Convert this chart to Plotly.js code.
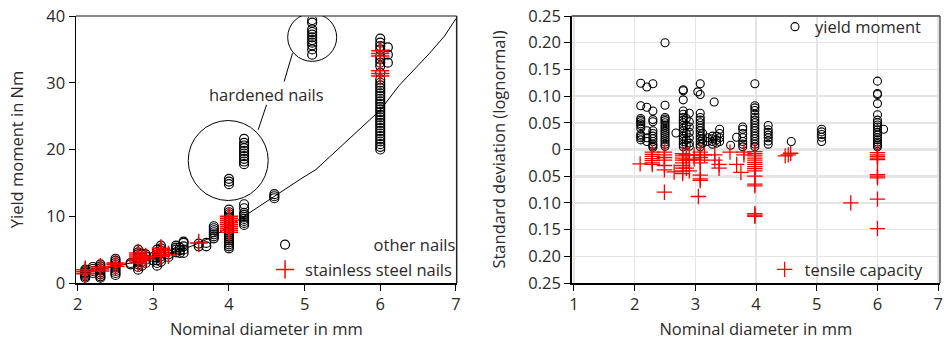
<!DOCTYPE html>
<html>
<head>
<meta charset="utf-8">
<script src="https://cdn.plot.ly/plotly-3.0.1.min.js"></script>
<style>html,body{margin:0;padding:0;background:#fff;}#chart{width:944px;height:340px;}</style>
</head>
<body>
<div id="chart"></div>
<script>
// ---------- Left panel: yield moment vs nominal diameter ----------
const otherDiam = [2.1, 2.2, 2.3, 2.5, 2.7, 2.8, 2.85, 2.9, 3.0, 3.05, 3.1, 3.2, 3.3, 3.35, 3.4, 3.6, 3.7, 3.8, 4.0, 4.2, 4.6, 5.1, 6.0, 6.1];
const otherMoment = [
  [0.8, 1.0, 1.2, 1.4, 1.5, 1.6, 1.8, 2.0],
  [1.5, 1.8, 2.1, 2.4],
  [0.8, 1.0, 1.3, 1.6, 1.9, 2.2, 2.5, 2.8],
  [1.2, 1.5, 1.8, 2.1, 2.4, 2.7, 3.0, 3.3, 3.6],
  [2.8, 3.0],
  [2.0, 2.4, 2.8, 3.1, 3.4, 3.7, 4.0, 4.3, 4.6, 5.0],
  [2.6, 3.2, 3.8, 4.4],
  [3.0, 3.5, 4.0, 4.3],
  [3.4, 3.9],
  [2.6, 3.0, 3.4, 3.8, 4.2, 4.6, 5.0],
  [3.2, 3.6, 4.0, 4.4, 4.8, 5.2, 5.6],
  [3.9, 4.3],
  [4.6, 5.0, 5.3, 5.6],
  [4.5, 4.9, 5.3],
  [4.5, 5.0, 5.5, 6.0, 6.2],
  [5.5, 5.9],
  [5.5, 6.0],
  [6.7, 7.0, 7.3, 7.6, 7.9, 8.2, 8.5],
  [5.2, 5.5, 5.8, 6.1, 6.4, 6.7, 7.0, 7.3, 7.6, 7.9, 8.2, 8.5, 8.8, 9.1, 9.4, 9.7, 10.0, 10.3, 10.6, 11.0, 14.8, 15.2, 15.6],
  [8.7, 9.0, 9.3, 9.6, 9.9, 10.2, 10.5, 11.2, 11.8, 17.8, 18.2, 18.6, 19.0, 19.4, 19.8, 20.2, 20.6, 21.0, 21.6],
  [12.7, 13.0, 13.3],
  [34.2, 35.0, 35.6, 36.0, 36.4, 36.8, 37.2, 37.6, 38.0, 39.0, 39.4],
  [20.0, 20.4, 20.8, 21.2, 21.6, 22.0, 22.4, 22.8, 23.2, 23.6, 24.0, 24.4, 24.8, 25.2, 25.6, 26.0, 26.4, 26.8, 27.2, 27.6, 28.0, 28.4, 28.8, 29.2, 29.6, 30.0, 30.5, 31.5, 32.5, 33.0, 33.5, 34.0, 35.0, 35.5, 36.0, 36.6],
  [33.0, 34.2, 35.3]
];
const steelDiam = [2.1, 2.3, 2.5, 2.8, 2.85, 2.9, 3.1, 3.2, 3.6, 4.0, 6.0];
const steelMoment = [
  [1.4, 1.7, 2.0],
  [1.8, 2.1, 2.4],
  [2.5, 2.8, 3.0],
  [3.0, 3.3, 3.6, 3.9, 4.2, 4.5],
  [3.5, 4.0],
  [3.6, 3.9],
  [4.0, 4.3, 4.6, 4.9, 5.2],
  [4.2],
  [6.0],
  [7.6, 7.9, 8.2, 8.5, 8.8, 9.1, 9.4, 9.7, 10.0],
  [31.0, 31.4, 31.8, 34.0, 34.4, 34.8]
];
const curveDiam = [2.05, 2.3, 2.5, 2.7, 3.0, 3.2, 3.5, 3.8, 4.0, 4.25, 4.6, 4.95, 5.15, 5.4, 5.6, 5.8, 6.0, 6.25, 6.45, 6.65, 6.85, 7.0];
const curveMoment = [1.5, 2.0, 2.5, 3.0, 3.7, 4.3, 5.5, 7.0, 8.5, 10.4, 12.9, 15.6, 17.0, 19.6, 21.8, 23.8, 25.9, 29.6, 32.0, 34.4, 37.0, 39.6];

// ---------- Right panel: standard deviation (lognormal) ----------
const ymDiam = [2.1, 2.2, 2.3, 2.5, 2.68, 2.8, 2.85, 2.9, 3.04, 3.08, 3.12, 3.2, 3.28, 3.31, 3.35, 3.4, 3.58, 3.68, 3.78, 3.98, 4.2, 4.58, 5.08, 6.0, 6.1];
const ymSd = [
  [0.124, 0.082, 0.058, 0.055, 0.052, 0.048, 0.045, 0.040, 0.028, 0.025, 0.022, 0.018],
  [0.117, 0.079, 0.035, 0.022, 0.015],
  [0.123, 0.072, 0.056, 0.052, 0.035, 0.030, 0.025, 0.020, 0.015, 0.010, 0.007, 0.004],
  [0.200, 0.083, 0.060, 0.057, 0.054, 0.050, 0.046, 0.042, 0.038, 0.034, 0.030, 0.026, 0.022, 0.018, 0.014, 0.010, 0.006],
  [0.031],
  [0.112, 0.110, 0.093, 0.072, 0.066, 0.060, 0.055, 0.050, 0.045, 0.040, 0.035, 0.030, 0.025, 0.020, 0.015, 0.010, 0.005],
  [0.058, 0.045, 0.030, 0.018, 0.008],
  [0.068, 0.052, 0.042, 0.032, 0.022, 0.012, 0.006],
  [0.108],
  [0.123, 0.103, 0.068, 0.060, 0.055, 0.050, 0.045, 0.040, 0.035, 0.030, 0.025, 0.020, 0.015, 0.010, 0.005],
  [0.030, 0.020, 0.012],
  [0.022, 0.015],
  [0.025, 0.020, 0.015, 0.010],
  [0.089],
  [0.025, 0.018, 0.012],
  [0.038, 0.030, 0.022, 0.015],
  [0.008],
  [0.023],
  [0.042, 0.038, 0.030, 0.022, 0.015, 0.010, 0.005],
  [0.123, 0.082, 0.078, 0.073, 0.066, 0.060, 0.055, 0.050, 0.045, 0.040, 0.035, 0.030, 0.025, 0.020, 0.015, 0.010, 0.005],
  [0.045, 0.037, 0.032, 0.027, 0.022, 0.016, 0.010],
  [0.015],
  [0.038, 0.033, 0.028, 0.023, 0.015],
  [0.128, 0.105, 0.103, 0.086, 0.065, 0.055, 0.050, 0.046, 0.042, 0.037, 0.032, 0.027, 0.022, 0.018, 0.014, 0.011, 0.008, 0.005],
  [0.038]
];
// tensile capacity is drawn downward (plotted as negative values, labelled as absolute)
const tcDiam = [2.09, 2.29, 2.49, 2.65, 2.79, 2.85, 2.9, 2.98, 3.05, 3.08, 3.15, 3.32, 3.39, 3.57, 3.68, 3.75, 3.8, 3.98, 4.48, 4.53, 4.57, 5.56, 6.0];
const tcSd = [
  [0.027],
  [0.005, 0.009, 0.013, 0.017, 0.021, 0.025, 0.028],
  [0.005, 0.010, 0.015, 0.020, 0.030, 0.038, 0.080],
  [0.042],
  [0.008, 0.012, 0.016, 0.020, 0.025, 0.030, 0.035, 0.040, 0.045],
  [0.010, 0.020, 0.035],
  [0.010, 0.020, 0.040],
  [0.010, 0.018],
  [0.088],
  [0.005, 0.010, 0.015, 0.020, 0.025, 0.048, 0.055, 0.058],
  [0.010],
  [0.010, 0.020],
  [0.028, 0.035],
  [0.005],
  [0.028],
  [0.043],
  [0.005, 0.010],
  [0.004, 0.008, 0.012, 0.016, 0.020, 0.024, 0.028, 0.032, 0.036, 0.040, 0.050, 0.065, 0.068, 0.120, 0.123, 0.125],
  [0.012],
  [0.010],
  [0.007],
  [0.100],
  [0.006, 0.010, 0.013, 0.016, 0.019, 0.047, 0.050, 0.053, 0.093, 0.148]
];
const sdTickVals = [0.25, 0.20, 0.15, 0.10, 0.05, 0, -0.05, -0.10, -0.15, -0.20, -0.25];
const sdTickText = ['0.25', '0.20', '0.15', '0.10', '0.05', '0', '0.05', '0.10', '0.15', '0.20', '0.25'];
const diamTicksLeft = [2, 3, 4, 5, 6, 7];
const diamTicksRight = [1, 2, 3, 4, 5, 6, 7];
const momentTicks = [0, 10, 20, 30, 40];

function flatten(diams, groups, sign) {
  const xs = [], ys = [];
  diams.forEach((d, i) => groups[i].forEach(v => { xs.push(d); ys.push(sign * v); }));
  return {x: xs, y: ys};
}
const other = flatten(otherDiam, otherMoment, 1);
const steel = flatten(steelDiam, steelMoment, 1);
const ym = flatten(ymDiam, ymSd, 1);
const tc = flatten(tcDiam, tcSd, -1);

const FONT = 'Open Sans, DejaVu Sans, sans-serif';
const TXT = '#2a2a2a';
const fnt = (s) => ({family: FONT, size: s, color: TXT});
const NB = '\u00a0';

const traces = [
  {x: curveDiam, y: curveMoment, mode: 'lines', line: {color: '#000', width: 1}, showlegend: false, hoverinfo: 'skip', xaxis: 'x', yaxis: 'y'},
  {x: other.x, y: other.y, mode: 'markers', name: NB.repeat(16) + 'other nails', legend: 'legend',
   marker: {symbol: 'circle-open', size: 9, color: '#000', line: {width: 1.2, color: '#000'}}, xaxis: 'x', yaxis: 'y'},
  {x: steel.x, y: steel.y, mode: 'markers', name: 'stainless steel nails', legend: 'legend2',
   marker: {symbol: 'cross-thin-open', size: 13, color: '#ff0000', line: {width: 1.5, color: '#ff0000'}}, xaxis: 'x', yaxis: 'y'},
  {x: ym.x, y: ym.y, mode: 'markers', name: 'yield moment', legend: 'legend3',
   marker: {symbol: 'circle-open', size: 8, color: '#000', line: {width: 1.1, color: '#000'}}, xaxis: 'x2', yaxis: 'y2'},
  {x: tc.x, y: tc.y, mode: 'markers', name: 'tensile capacity', legend: 'legend4',
   marker: {symbol: 'cross-thin-open', size: 11, color: '#ff0000', line: {width: 1.3, color: '#ff0000'}}, xaxis: 'x2', yaxis: 'y2'}
];

const axisCommon = {
  ticks: 'outside', ticklen: 6, tickwidth: 1, tickcolor: '#000',
  showline: true, linecolor: '#000', linewidth: 1.5, zeroline: false,
  tickfont: fnt(16.5), automargin: false
};
const legendCommon = {bgcolor: 'rgba(0,0,0,0)', borderwidth: 0, font: fnt(16.5), xanchor: 'left', yanchor: 'middle'};

const layout = {
  width: 944, height: 340,
  margin: {l: 76, r: 4, t: 16, b: 57},
  paper_bgcolor: '#fff', plot_bgcolor: '#fff',
  font: fnt(16.5),
  xaxis: Object.assign({}, axisCommon, {domain: [0, 0.4406], range: [1.978, 7.01], tickvals: diamTicksLeft, showgrid: false,
    title: {text: 'Nominal diameter in mm', font: fnt(16.5), standoff: 10}}),
  yaxis: Object.assign({}, axisCommon, {domain: [0, 1], range: [0, 40], tickvals: momentTicks, showgrid: false,
    title: {text: 'Yield moment in Nm', font: fnt(16.5), standoff: 18}}),
  xaxis2: Object.assign({}, axisCommon, {domain: [0.5737, 1], range: [0.962, 7.03], tickvals: diamTicksRight, anchor: 'y2',
    showgrid: true, gridcolor: '#e4e4e4', gridwidth: 1.5,
    title: {text: 'Nominal diameter in mm', font: fnt(16.5), standoff: 10}}),
  yaxis2: Object.assign({}, axisCommon, {domain: [0, 1], range: [-0.25, 0.25], anchor: 'x2', tickvals: sdTickVals, ticktext: sdTickText,
    showgrid: true, gridcolor: '#e4e4e4', gridwidth: 1.5,
    title: {text: 'Standard deviation (lognormal)', font: fnt(16.5), standoff: 18}}),
  legend: Object.assign({}, legendCommon, {x: 0.2188, y: 0.143}),
  legend2: Object.assign({}, legendCommon, {x: 0.2188, y: 0.05}),
  legend3: Object.assign({}, legendCommon, {x: 0.809, y: 0.959}),
  legend4: Object.assign({}, legendCommon, {x: 0.797, y: 0.05}),
  shapes: [
    {type: 'line', xref: 'x domain', yref: 'y domain', x0: 0, x1: 1, y0: 1, y1: 1, line: {color: '#8a8a8a', width: 2}},
    {type: 'line', xref: 'x domain', yref: 'y domain', x0: 1, x1: 1, y0: 0, y1: 1, line: {color: '#222', width: 1.5}},
    {type: 'line', xref: 'x2 domain', yref: 'y2 domain', x0: 0, x1: 1, y0: 1, y1: 1, line: {color: '#6a6a6a', width: 2}},
    {type: 'line', xref: 'x2 domain', yref: 'y2 domain', x0: 1, x1: 1, y0: 0, y1: 1, line: {color: '#555', width: 1.5}},
    {type: 'line', xref: 'x2 domain', yref: 'y2', x0: 0, x1: 1, y0: 0.05, y1: 0.05, line: {color: '#9a9a9a', width: 1.5}, layer: 'below'},
    {type: 'line', xref: 'x2 domain', yref: 'y2', x0: 0, x1: 1, y0: 0, y1: 0, line: {color: '#9a9a9a', width: 1.5}, layer: 'below'},
    {type: 'line', xref: 'x2 domain', yref: 'y2', x0: 0, x1: 1, y0: -0.05, y1: -0.05, line: {color: '#9a9a9a', width: 2}, layer: 'below'},
    {type: 'circle', xref: 'x', yref: 'y', xsizemode: 'pixel', ysizemode: 'pixel', xanchor: 3.99, yanchor: 18.35,
     x0: -40, x1: 40, y0: -40, y1: 40, line: {color: '#000', width: 1}},
    {type: 'circle', xref: 'x', yref: 'y', xsizemode: 'pixel', ysizemode: 'pixel', xanchor: 5.1, yanchor: 36.8,
     x0: -24.5, x1: 24.5, y0: -24, y1: 24, line: {color: '#000', width: 1}},
    {type: 'line', xref: 'x', yref: 'y', x0: 4.386, y0: 22.95, x1: 4.497, y1: 26.7, line: {color: '#000', width: 1}},
    {type: 'line', xref: 'x', yref: 'y', x0: 4.729, y0: 30.18, x1: 4.84, y1: 34.43, line: {color: '#000', width: 1}}
  ],
  annotations: [
    {text: 'hardened nails', x: 4.497, y: 28.2, xref: 'x', yref: 'y', showarrow: false, font: fnt(16.5), xanchor: 'center', yanchor: 'middle'}
  ]
};

Plotly.newPlot('chart', traces, layout, {displayModeBar: false, staticPlot: true});
</script>
</body>
</html>
